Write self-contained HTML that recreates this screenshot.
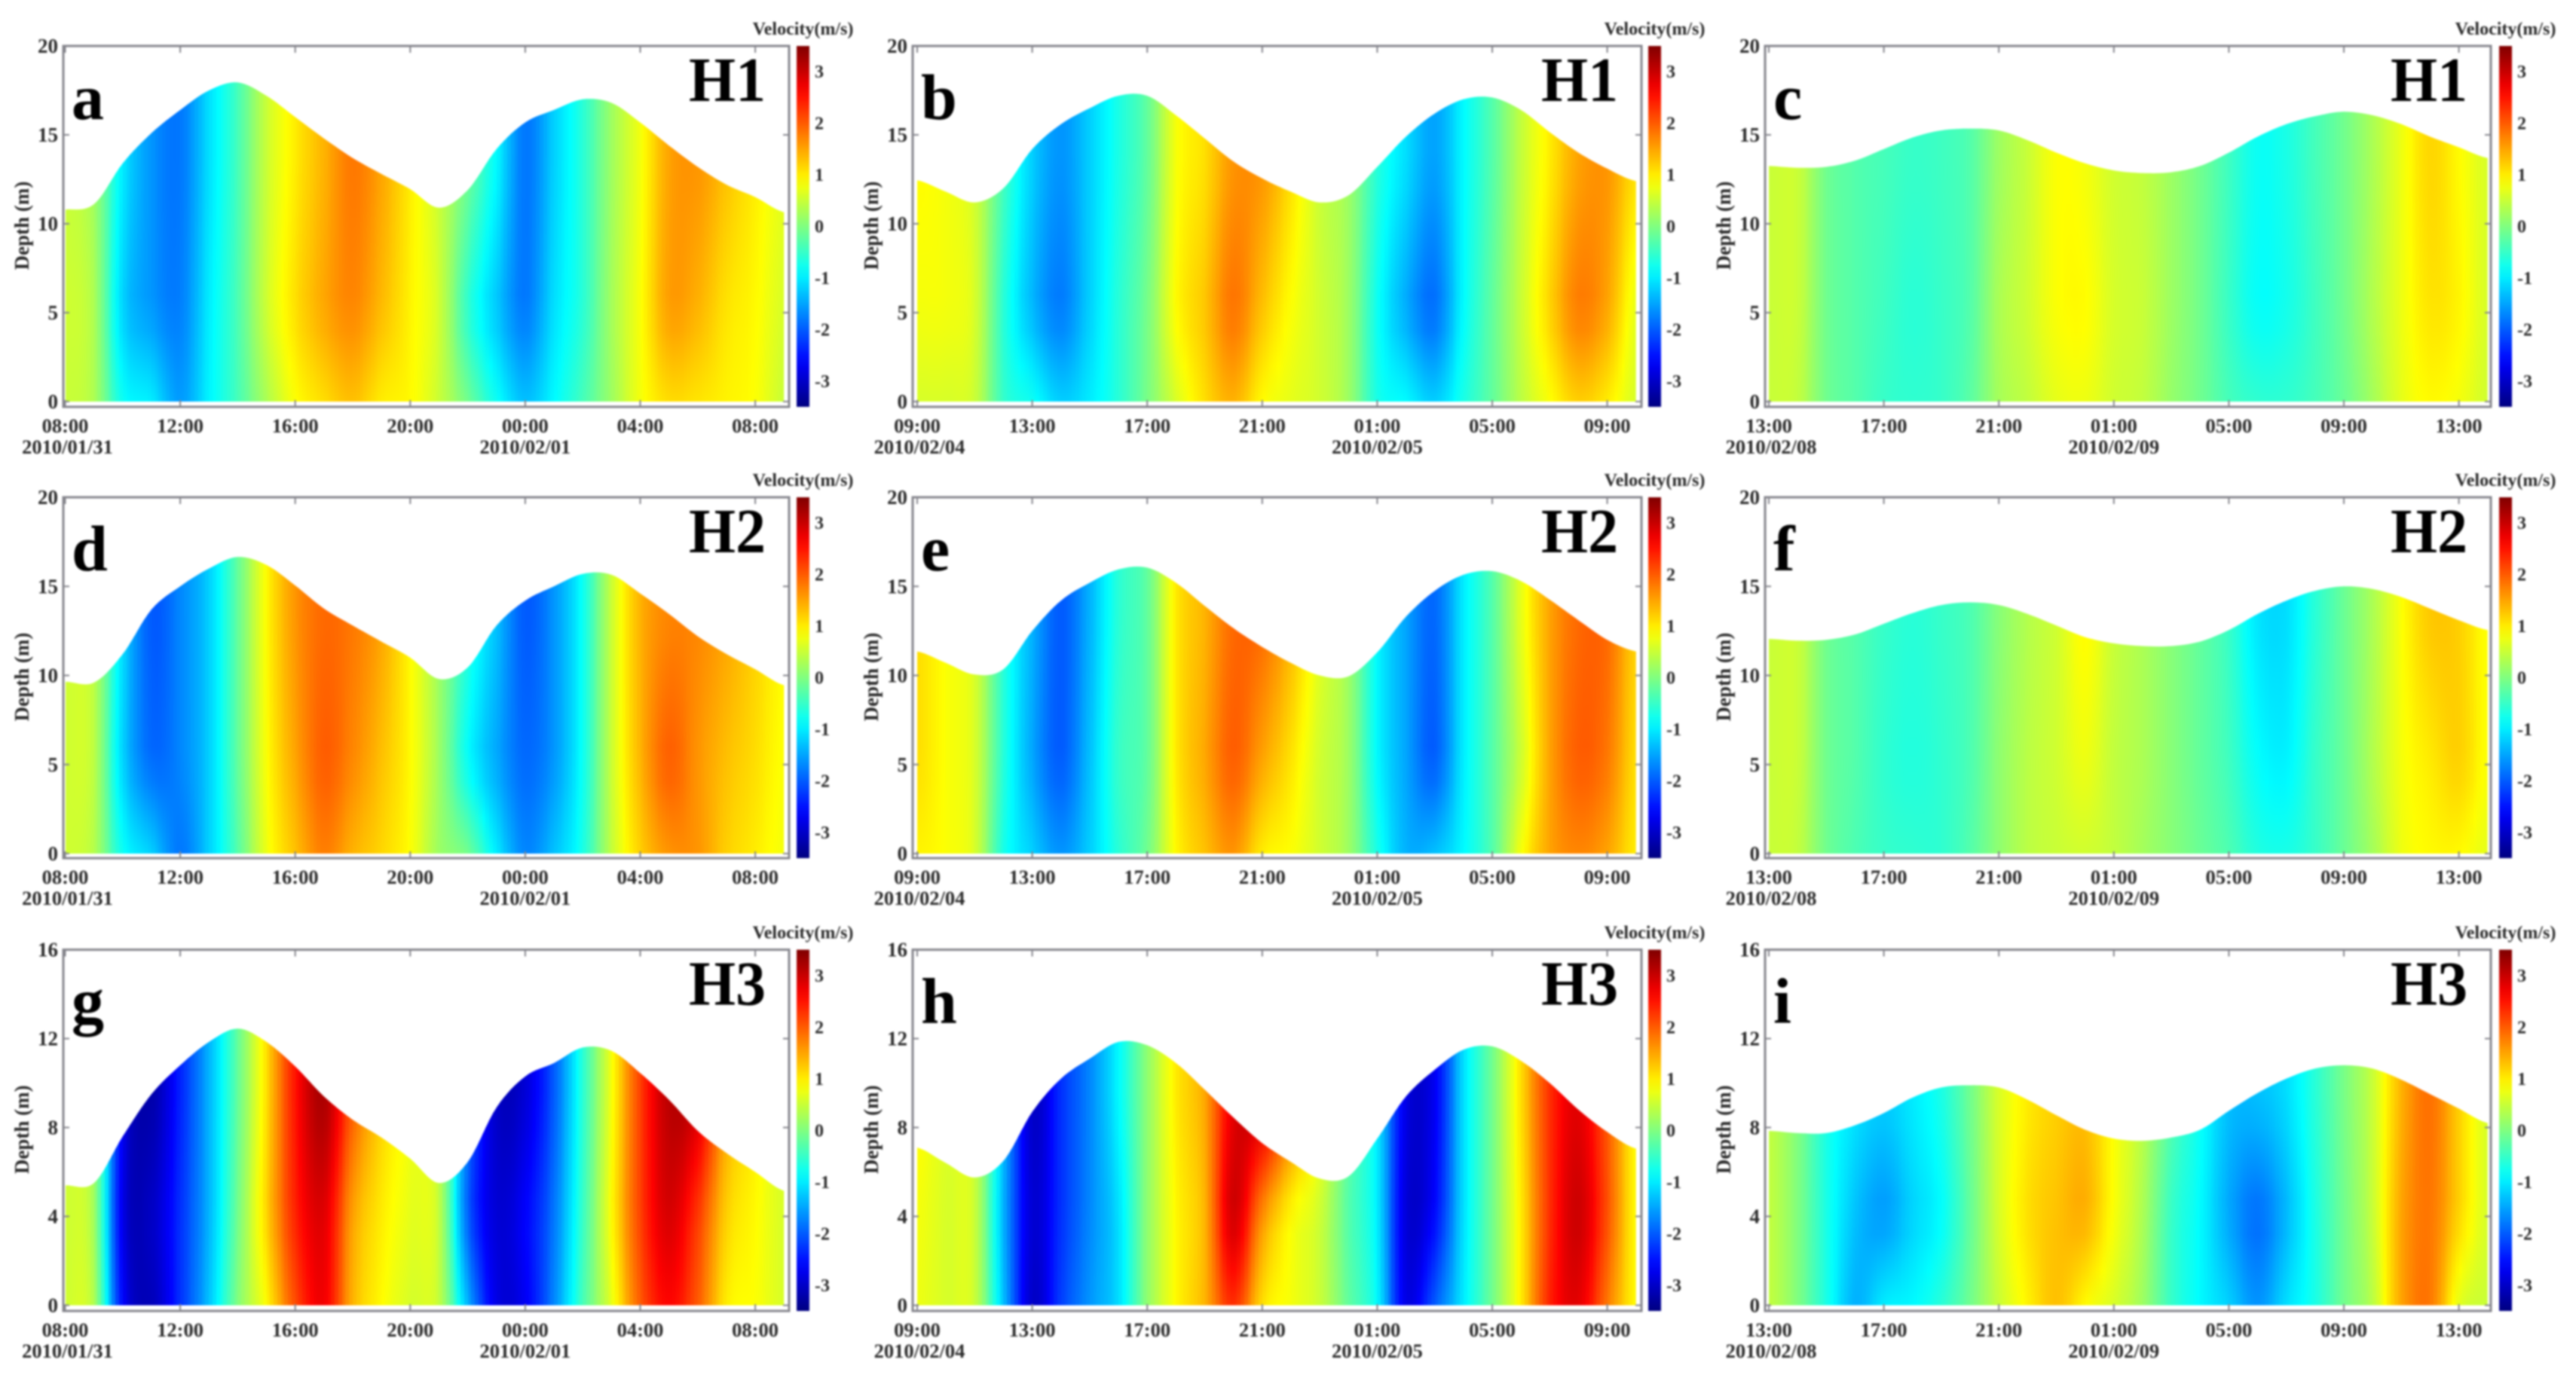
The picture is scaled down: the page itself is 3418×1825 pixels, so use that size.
<!DOCTYPE html>
<html lang="en">
<head>
<meta charset="utf-8">
<title>Velocity depth-time panels</title>
<style>
html,body{margin:0;padding:0;background:#fff;width:3418px;height:1825px;overflow:hidden}
#figure{display:block;filter:blur(1.3px)}
text{font-family:"Liberation Serif",serif;font-weight:bold}
</style>
</head>
<body>
<svg id="figure" xmlns="http://www.w3.org/2000/svg" width="3418" height="1825" viewBox="0 0 3418 1825"></svg>
<script>
// Shared sampling of the time axis, in hours after the first tick of each panel
const hours = [0,1,2,3,4,5,6,7,8,9,10,11,12,13,14,15,16,17,18,19,20,21,22,23,24,25];
const tickHours = [0,4,8,12,16,20,24];
const timeTicksCol1 = ['08:00','12:00','16:00','20:00','00:00','04:00','08:00'];
const timeTicksCol2 = ['09:00','13:00','17:00','21:00','01:00','05:00','09:00'];
const timeTicksCol3 = ['13:00','17:00','21:00','01:00','05:00','09:00','13:00'];
const dateTicksCol1 = ['2010/01/31','2010/02/01'];
const dateTicksCol2 = ['2010/02/04','2010/02/05'];
const dateTicksCol3 = ['2010/02/08','2010/02/09'];
const dateHoursCol1 = [0,16];
const dateHoursCol2 = [0,16];
const dateHoursCol3 = [0,12];
const depthTicksRow12 = [0,5,10,15,20];
const depthTicksRow3 = [0,4,8,12,16];
const depthLevelsRow12 = [0,5,13];
const depthLevelsRow3 = [0,4,9];
const colorbarTicks = [-3,-2,-1,0,1,2,3];

// Water surface (m) per panel
const surfaceA = [10.8,11.1,13.4,15.1,16.4,17.5,17.95,17.2,16.0,14.8,13.7,12.8,11.95,10.9,11.9,14.2,15.7,16.4,17.0,16.8,15.7,14.4,13.2,12.2,11.5,10.65];
const surfaceB = [12.45,11.8,11.2,12.0,14.2,15.6,16.5,17.2,17.2,16.1,14.8,13.5,12.55,11.8,11.2,11.6,13.2,14.9,16.2,17.0,17.1,16.4,15.15,14.0,13.1,12.4];
const surfaceC = [13.25,13.15,13.2,13.55,14.2,14.85,15.25,15.35,15.25,14.7,14.0,13.4,13.0,12.85,12.9,13.25,14.0,14.9,15.6,16.05,16.3,16.1,15.6,14.9,14.3,13.7];
const surfaceD = [9.65,9.6,11.2,13.7,15.0,16.0,16.65,16.2,15.05,13.75,12.8,11.9,11.0,9.8,10.45,12.8,14.2,15.0,15.7,15.65,14.6,13.45,12.2,11.2,10.35,9.45];
const surfaceE = [11.35,10.7,10.05,10.35,12.5,14.2,15.2,15.95,16.05,15.2,13.9,12.65,11.6,10.7,10.0,9.95,11.3,13.3,14.75,15.65,15.85,15.3,14.25,13.1,12.0,11.35];
const surfaceF = [12.05,11.95,12.0,12.3,12.9,13.5,13.95,14.1,13.95,13.45,12.8,12.15,11.8,11.65,11.65,11.9,12.55,13.45,14.2,14.75,15.0,14.85,14.4,13.75,13.1,12.55];
const surfaceG = [5.4,5.5,7.6,9.5,10.8,11.85,12.45,11.85,10.75,9.4,8.35,7.55,6.6,5.5,6.45,8.9,10.3,10.9,11.6,11.45,10.45,9.25,7.85,6.85,6.0,5.15];
const surfaceH = [7.1,6.4,5.75,6.5,8.7,10.2,11.1,11.85,11.7,10.9,9.7,8.45,7.3,6.45,5.7,5.8,7.5,9.4,10.6,11.5,11.65,11.0,10.0,8.8,7.8,7.05];
const surfaceI = [7.85,7.75,7.75,8.1,8.65,9.35,9.8,9.9,9.8,9.25,8.55,7.9,7.5,7.4,7.55,7.9,8.75,9.55,10.2,10.65,10.8,10.65,10.15,9.5,8.85,8.2];

// Velocity (m/s) near the surface, mid-column and near the bed per panel
const velTopA = [.5,.2,-1.0,-1.6,-1.8,-1.1,-.4,.5,1.0,1.4,1.8,1.5,1.0,.5,-.1,-.9,-1.8,-1.2,-.6,.2,.8,1.5,1.6,1.3,1.0,.7];
const velMidA = [.55,.3,-1.2,-1.6,-1.75,-1.0,-.35,.55,1.1,1.5,1.7,1.35,.95,.55,-.6,-1.3,-1.8,-1.1,-.6,.25,.85,1.55,1.4,1.05,.9,.6];
const velBotA = [.5,.3,-.8,-1.0,-1.55,-.95,-.4,.3,.85,1.1,1.3,1.0,.9,.5,-.1,-.8,-1.3,-.9,-.4,.2,.8,1.1,1.05,.95,.85,.5];

const velTopB = [.9,.8,.55,-.4,-1.2,-1.6,-1.2,-.7,-.2,.8,1.1,1.6,1.6,1.1,.5,.2,-.6,-1.1,-1.5,-.9,-.3,.45,1.0,1.5,1.6,1.1];
const velMidB = [.8,.8,.6,-.6,-1.4,-1.8,-1.2,-.6,-.05,.9,1.3,1.85,1.3,.85,.55,.2,-.8,-1.5,-1.9,-.9,-.2,.5,1.2,1.8,1.5,.7];
const velBotB = [.6,.6,.5,-.5,-.8,-1.2,-1.0,-.6,-.05,.6,1.1,1.4,.9,.7,.55,.2,-.7,-.9,-1.2,-.7,-.2,.4,.85,1.2,1.0,.6];

const velTopC = [.5,.5,-.1,-.3,-.4,-.5,-.45,-.3,.2,.5,.85,.8,.55,.45,.2,-.1,-.45,-.8,-.7,-.4,-.1,.3,.75,1.15,.9,.6];
const velMidC = [.5,.5,-.1,-.3,-.45,-.6,-.5,-.3,.3,.55,.85,.9,.6,.5,.2,-.1,-.5,-.85,-.75,-.45,-.1,.35,.75,1.05,.95,.6];
const velBotC = [.5,.45,-.1,-.3,-.5,-.55,-.5,-.25,.25,.45,.7,.75,.55,.45,.15,-.1,-.4,-.55,-.55,-.4,-.15,.25,.7,.9,.8,.55];

const velTopD = [.55,.4,-1.1,-2.0,-1.7,-1.2,-.2,.9,1.6,1.9,1.8,1.5,.9,.2,-.6,-1.3,-2.0,-1.6,-.8,.5,1.4,1.7,1.7,1.5,1.2,.9];
const velMidD = [.55,.4,-1.2,-1.9,-1.7,-1.2,-.2,.85,1.5,2.0,1.7,1.3,.9,.2,-.9,-1.5,-1.9,-1.6,-.8,.5,1.4,2.0,1.6,1.3,1.1,.85];
const velBotD = [.55,.35,-.8,-1.2,-1.8,-1.2,-.3,.75,1.3,1.75,1.4,1.15,.85,.2,-.1,-1.0,-1.7,-1.3,-.7,.45,1.2,1.6,1.6,1.2,1.0,.8];

const velTopE = [1.1,.85,.6,-.6,-1.4,-2.0,-1.4,-.6,-.2,1.0,1.4,1.9,1.9,1.4,.7,.2,-.9,-1.5,-1.9,-1.0,-.3,.7,1.5,1.9,1.9,1.2];
const velMidE = [1.1,.85,.6,-.6,-1.5,-2.0,-1.3,-.5,-.2,1.0,1.5,2.0,1.5,1.05,.55,.2,-.9,-1.5,-2.0,-1.0,-.3,.5,1.5,2.0,1.8,1.1];
const velBotE = [.95,.85,.6,-.7,-1.2,-1.6,-1.2,-.6,-.1,.9,1.3,1.6,1.0,.85,.55,.2,-.7,-1.4,-1.3,-.9,-.3,.8,1.5,1.7,1.5,1.0];

const velTopF = [.5,.5,-.1,-.3,-.5,-.6,-.5,-.35,.05,.35,.55,.9,.5,.3,.05,-.2,-.5,-1.05,-1.1,-.6,-.15,.3,.85,1.25,1.2,.85];
const velMidF = [.5,.5,-.1,-.3,-.55,-.65,-.55,-.35,.1,.4,.55,.75,.45,.3,.05,-.2,-.45,-.85,-.95,-.5,-.15,.35,.8,1.0,1.2,.85];
const velBotF = [.5,.45,-.1,-.35,-.5,-.55,-.55,-.3,.1,.4,.5,.55,.45,.25,.05,-.15,-.35,-.65,-.7,-.5,-.15,.25,.75,.9,.9,.7];

const velTopG = [.55,.2,-2.7,-3.2,-2.4,-1.4,-.2,1.1,2.5,3.2,2.0,1.2,.8,.4,-1.8,-3.0,-2.9,-2.0,-.6,.8,2.2,3.1,2.9,1.5,1.0,.6];
const velMidG = [.55,.2,-2.8,-3.0,-2.3,-1.4,-.1,1.2,2.4,2.8,1.5,1.0,.7,.45,-2.0,-2.9,-2.6,-1.8,-.5,.9,2.2,2.9,2.2,1.2,.9,.6];
const velBotG = [.55,.3,-2.6,-3.1,-2.3,-1.3,0,.9,2.1,2.7,1.4,.9,.6,.45,-1.4,-2.8,-2.7,-1.7,-.4,.7,2.0,2.6,2.0,1.0,.85,.6];

const velTopH = [.9,.65,.5,-1.3,-3.0,-2.3,-1.7,-.9,.1,1.0,1.5,2.8,3.0,1.9,.9,-.2,-1.0,-2.8,-2.7,-1.1,-.1,1.1,2.3,2.8,2.0,.9];
const velMidH = [.8,.6,.5,-1.4,-2.9,-2.3,-1.7,-1.1,.1,.9,1.4,3.0,1.6,.85,.5,-.3,-1.0,-2.9,-2.6,-1.1,-.1,1.0,2.3,3.0,2.1,.9];
const velBotH = [.75,.6,.5,-1.3,-3.0,-2.2,-1.6,-1.1,.1,.9,1.4,2.3,1.1,.8,.5,-.2,-.9,-2.8,-2.0,-1.0,-.1,1.0,2.4,2.8,1.8,.9];

const velTopI = [.45,0,-.7,-1.05,-1.2,-1.0,-.7,-.1,.6,1.0,1.2,1.3,.85,.4,-.3,-.8,-1.3,-1.3,-1.1,-.6,-.05,.5,1.4,1.85,1.2,.6];
const velMidI = [.45,0,-.7,-1.3,-1.6,-1.2,-.9,-.2,.6,1.1,1.3,1.45,.85,.3,-.5,-.9,-1.5,-1.9,-1.4,-.7,-.1,.5,1.5,1.8,1.2,.6];
const velBotI = [.45,0,-.7,-1.4,-1.0,-.9,-.6,-.1,.5,.95,1.3,.9,.6,.2,-.5,-.9,-1.2,-1.6,-1.1,-.7,-.1,.4,1.5,1.8,.7,.5];

const panels = [
  {letter:'a',tag:'H1',col:0,row:0,surface:surfaceA,top:velTopA,mid:velMidA,bot:velBotA},
  {letter:'b',tag:'H1',col:1,row:0,surface:surfaceB,top:velTopB,mid:velMidB,bot:velBotB},
  {letter:'c',tag:'H1',col:2,row:0,surface:surfaceC,top:velTopC,mid:velMidC,bot:velBotC},
  {letter:'d',tag:'H2',col:0,row:1,surface:surfaceD,top:velTopD,mid:velMidD,bot:velBotD},
  {letter:'e',tag:'H2',col:1,row:1,surface:surfaceE,top:velTopE,mid:velMidE,bot:velBotE},
  {letter:'f',tag:'H2',col:2,row:1,surface:surfaceF,top:velTopF,mid:velMidF,bot:velBotF},
  {letter:'g',tag:'H3',col:0,row:2,surface:surfaceG,top:velTopG,mid:velMidG,bot:velBotG},
  {letter:'h',tag:'H3',col:1,row:2,surface:surfaceH,top:velTopH,mid:velMidH,bot:velBotH},
  {letter:'i',tag:'H3',col:2,row:2,surface:surfaceI,top:velTopI,mid:velMidI,bot:velBotI}
];

// Layout
const columnLayout = [
  {left:84,right:1047,x0:86.5,barLeft:1057,ticks:timeTicksCol1,dates:dateTicksCol1,dateHours:dateHoursCol1},
  {left:1211,right:2178,x0:1217,barLeft:2187,ticks:timeTicksCol2,dates:dateTicksCol2,dateHours:dateHoursCol2},
  {left:2342,right:3305,x0:2347,barLeft:3316,ticks:timeTicksCol3,dates:dateTicksCol3,dateHours:dateHoursCol3}
];
const rowLayout = [
  {top:61,bottom:540,y0:533,maxDepth:20,ticks:depthTicksRow12,levels:depthLevelsRow12},
  {top:660,bottom:1139,y0:1133,maxDepth:20,ticks:depthTicksRow12,levels:depthLevelsRow12},
  {top:1260.5,bottom:1740,y0:1732.5,maxDepth:16,ticks:depthTicksRow3,levels:depthLevelsRow3}
];
const PX_PER_HOUR = 38.15;
const BAR_WIDTH = 17;
const VEL_MAX = 3.5;
const AXIS_COLOR = '#85858c';
const SUBSTEPS = 8;
const NS = 'http://www.w3.org/2000/svg';
const root = document.getElementById('figure');

function svgEl(tag, attrs, parent){
  const el = document.createElementNS(NS, tag);
  for (const k in attrs) el.setAttribute(k, attrs[k]);
  parent.appendChild(el);
  return el;
}
function clamp01(v){ return Math.max(0, Math.min(1, v)); }
function jet(v){
  const t = clamp01((v + VEL_MAX) / (2 * VEL_MAX));
  const r = clamp01(1.5 - Math.abs(4 * t - 3));
  const g = clamp01(1.5 - Math.abs(4 * t - 2));
  const b = clamp01(1.5 - Math.abs(4 * t - 1));
  return 'rgb(' + Math.round(r * 255) + ',' + Math.round(g * 255) + ',' + Math.round(b * 255) + ')';
}
// Smooth reading of an hourly series between its samples
function readSeries(arr, h){
  const last = arr.length - 1;
  const i = Math.max(0, Math.min(last - 1, Math.floor(h)));
  const f = h - i;
  const p0 = arr[Math.max(0, i - 1)], p1 = arr[i], p2 = arr[i + 1], p3 = arr[Math.min(last, i + 2)];
  return 0.5 * (2 * p1 + (p2 - p0) * f + (2 * p0 - 5 * p1 + 4 * p2 - p3) * f * f + (3 * p1 - p0 - 3 * p2 + p3) * f * f * f);
}
function velocityAt(panel, levels, h, d){
  const b = readSeries(panel.bot, h), m = readSeries(panel.mid, h), t = readSeries(panel.top, h);
  if (d <= levels[0]) return b;
  if (d <= levels[1]) return b + (m - b) * (d - levels[0]) / (levels[1] - levels[0]);
  if (d <= levels[2]) return m + (t - m) * (d - levels[1]) / (levels[2] - levels[1]);
  return t;
}

const defs = svgEl('defs', {}, root);

panels.forEach(function(panel){
  const col = columnLayout[panel.col];
  const row = rowLayout[panel.row];
  const xScale = function(h){ return col.x0 + h * PX_PER_HOUR; };
  const yScale = function(d){ return row.y0 - d * (row.y0 - row.top) / row.maxDepth; };
  const group = svgEl('g', {}, root);
  
  

  // Clip the field to the water column
  const lastHour = hours[hours.length - 1];
  let d = 'M' + xScale(0) + ' ' + yScale(0);
  for (let s = 0; s <= lastHour * SUBSTEPS; s++) {
    const h = s / SUBSTEPS;
    d += ' L' + xScale(h).toFixed(1) + ' ' + yScale(readSeries(panel.surface, h)).toFixed(1);
  }
  d += ' L' + xScale(lastHour) + ' ' + yScale(0) + ' Z';
  const clip = svgEl('clipPath', {id: 'clip-' + panel.letter}, defs);
  svgEl('path', {d: d}, clip);

  const field = svgEl('g', {'clip-path': 'url(#clip-' + panel.letter + ')'}, group);
  
  

  for (let s = 0; s < lastHour * SUBSTEPS; s++) {
    const h = (s + 0.5) / SUBSTEPS;
    const id = 'g-' + panel.letter + '-' + s;
    const grad = svgEl('linearGradient', {id: id, gradientUnits: 'userSpaceOnUse', x1: 0, x2: 0, y1: row.y0, y2: row.top}, defs);
    for (let k = 0; k <= 10; k++) {
      const depth = row.maxDepth * k / 10;
      svgEl('stop', {offset: k / 10, 'stop-color': jet(velocityAt(panel, row.levels, h, depth))}, grad);
    }
    const xa = Math.round(xScale(s / SUBSTEPS));
    const xb = Math.round(xScale((s + 1) / SUBSTEPS));
    const cell = svgEl('rect', {x: xa, y: row.top, width: xb - xa + 1, height: row.y0 - row.top, fill: 'url(#' + id + ')', 'shape-rendering': 'crispEdges'}, field);
    
    
  }

  // Axes frame
  const frame = svgEl('rect', {x: col.left, y: row.top, width: col.right - col.left, height: row.bottom - row.top, fill: 'none', stroke: AXIS_COLOR, 'stroke-width': 3}, group);
  
  

  // X ticks
  tickHours.forEach(function(h, i){
    const x = xScale(h);
    const tb = svgEl('line', {x1: x, x2: x, y1: row.bottom, y2: row.bottom - 9, stroke: AXIS_COLOR, 'stroke-width': 2}, group);
    
    
    const tt = svgEl('line', {x1: x, x2: x, y1: row.top, y2: row.top + 9, stroke: AXIS_COLOR, 'stroke-width': 2}, group);
    
    
    const label = svgEl('text', {x: x, y: row.bottom + 34, 'text-anchor': 'middle', 'font-size': 26.5, fill: '#2a2a2a'}, group);
    label.textContent = col.ticks[i];
    
    
  });
  col.dateHours.forEach(function(h, i){
    const label = svgEl('text', {x: xScale(h) + (i === 0 ? 3 : 0), y: row.bottom + 62, 'text-anchor': 'middle', 'font-size': 26.5, fill: '#2a2a2a'}, group);
    label.textContent = col.dates[i];
    
    
  });

  // Y ticks
  row.ticks.forEach(function(v){
    const y = yScale(v);
    const tl = svgEl('line', {x1: col.left, x2: col.left + 8, y1: y, y2: y, stroke: AXIS_COLOR, 'stroke-width': 2}, group);
    
    
    const tr = svgEl('line', {x1: col.right, x2: col.right - 8, y1: y, y2: y, stroke: AXIS_COLOR, 'stroke-width': 2}, group);
    
    
    const label = svgEl('text', {x: col.left - 7, y: y + 9, 'text-anchor': 'end', 'font-size': 27, fill: '#2a2a2a'}, group);
    label.textContent = String(v);
    
    
  });

  // Y axis title
  const cy = (row.top + row.bottom) / 2 - 1;
  const yTitle = svgEl('text', {x: 0, y: 0, 'text-anchor': 'middle', 'font-size': 27, fill: '#2a2a2a', transform: 'translate(' + (col.left - 46) + ' ' + cy + ') rotate(-90)'}, group);
  yTitle.textContent = 'Depth (m)';
  
  

  // Panel letter and station tag
  const letter = svgEl('text', {x: col.left + 11, y: row.top + 97, 'font-size': 86, fill: '#000'}, group);
  letter.textContent = panel.letter;
  
  
  const tag = svgEl('text', {x: col.right - 133, y: row.top + 73, 'font-size': 84, fill: '#000', textLength: 102, lengthAdjust: 'spacingAndGlyphs'}, group);
  tag.textContent = panel.tag;
  
  

  // Colorbar
  const barId = 'bar-' + panel.letter;
  const barGrad = svgEl('linearGradient', {id: barId, x1: 0, x2: 0, y1: 1, y2: 0}, defs);
  for (let k = 0; k <= 28; k++) {
    svgEl('stop', {offset: k / 28, 'stop-color': jet(-VEL_MAX + 2 * VEL_MAX * k / 28)}, barGrad);
  }
  const bar = svgEl('rect', {x: col.barLeft, y: row.top, width: BAR_WIDTH, height: row.bottom - row.top, fill: 'url(#' + barId + ')'}, group);
  
  
  const barMid = (row.top + row.bottom) / 2;
  const barUnit = (row.bottom - row.top) / (2 * VEL_MAX);
  colorbarTicks.forEach(function(v){
    const label = svgEl('text', {x: col.barLeft + BAR_WIDTH + 7, y: barMid - v * barUnit + 8, 'font-size': 24, fill: '#2a2a2a'}, group);
    label.textContent = String(v);
    
    
  });
  const barTitle = svgEl('text', {x: col.barLeft + BAR_WIDTH / 2, y: row.top - 15, 'text-anchor': 'middle', 'font-size': 24, fill: '#2a2a2a'}, group);
  barTitle.textContent = 'Velocity(m/s)';
  
  
});
</script>
</body>
</html>
